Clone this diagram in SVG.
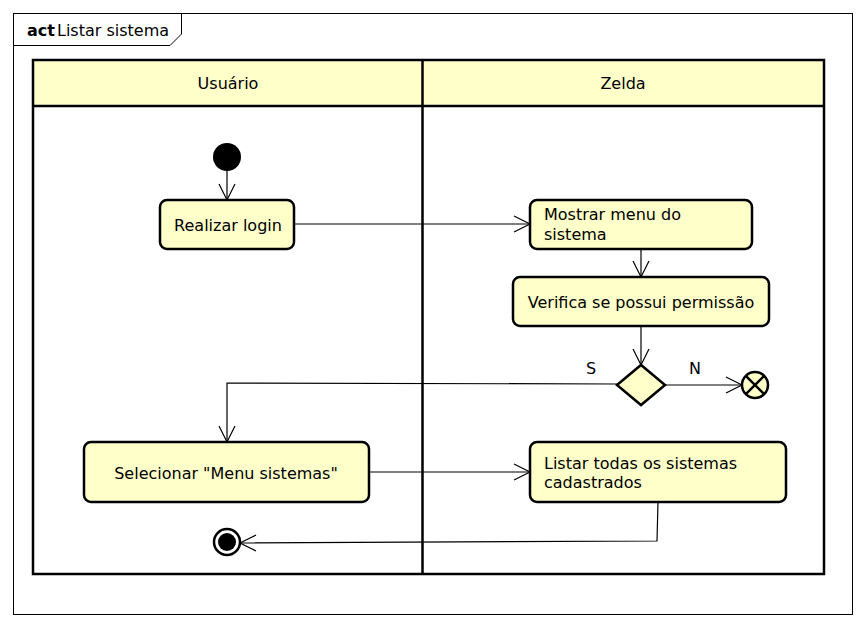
<svg xmlns="http://www.w3.org/2000/svg" width="865" height="628" viewBox="0 0 865 628">
  <style>
    .txt { font-family: "DejaVu Sans", "Liberation Sans", sans-serif; font-size: 16px; fill: #000; }
    .node { fill: #ffffca; stroke: #000; stroke-width: 2.5; }
    .lane { fill: none; stroke: #000; stroke-width: 2.5; }
    .flow { fill: none; stroke: #000; stroke-width: 1.2; }
    .head { fill: none; stroke: #000; stroke-width: 1.2; }
  </style>

  <rect width="865" height="628" fill="#fff"/>

  <!-- diagram frame -->
  <g id="frame">
    <rect x="13.5" y="13.5" width="839" height="601" fill="none" stroke="#000" stroke-width="1"/>
    <path d="M13.5,45.5 H170 L181.5,34 V13.5" fill="none" stroke="#000" stroke-width="1"/>
    <text x="27" y="36" class="txt" font-weight="bold">act</text>
    <text x="57" y="36" class="txt">Listar sistema</text>
  </g>

  <!-- swimlanes -->
  <g id="lanes">
    <rect x="33" y="60" width="791" height="46" fill="#ffffca"/>
    <rect x="33" y="60" width="791" height="514" class="lane"/>
    <line x1="33" y1="106" x2="824" y2="106" class="lane"/>
    <line x1="422.5" y1="60" x2="422.5" y2="574" class="lane"/>
    <text x="228" y="89" class="txt" text-anchor="middle">Usuário</text>
    <text x="623" y="89" class="txt" text-anchor="middle">Zelda</text>
  </g>

  <!-- connectors -->
  <g id="connectors">
    <path d="M227,171 V200" class="flow"/>
    <path d="M219,184 L227,200 L235,184" class="head"/>

    <path d="M294,224 H530" class="flow"/>
    <path d="M514,216 L530,224 L514,232" class="head"/>

    <path d="M641,249 V277" class="flow"/>
    <path d="M633,261 L641,277 L649,261" class="head"/>

    <path d="M641,326 V365" class="flow"/>
    <path d="M633,349 L641,365 L649,349" class="head"/>

    <path d="M665,385 H742" class="flow"/>
    <path d="M726,377 L742,385 L726,393" class="head"/>

    <path d="M617,384 L227,383 V442" class="flow"/>
    <path d="M219,426 L227,442 L235,426" class="head"/>

    <path d="M369,472 H530" class="flow"/>
    <path d="M514,464 L530,472 L514,480" class="head"/>

    <path d="M658,502 L657,541 L240,543" class="flow"/>
    <path d="M256,535 L240,543 L256,551" class="head"/>

    <text x="591" y="374" class="txt" text-anchor="middle">S</text>
    <text x="695" y="374" class="txt" text-anchor="middle">N</text>
  </g>

  <!-- nodes -->
  <g id="start">
    <circle cx="227" cy="157" r="14" fill="#000"/>
  </g>

  <g id="realizar-login">
    <rect x="160" y="200" width="134" height="49" rx="7" class="node"/>
    <text x="228" y="231" class="txt" text-anchor="middle">Realizar login</text>
  </g>

  <g id="mostrar-menu">
    <rect x="530" y="200" width="222" height="49" rx="7" class="node"/>
    <text x="544" y="220" class="txt">Mostrar menu do</text>
    <text x="544" y="240" class="txt">sistema</text>
  </g>

  <g id="verifica-permissao">
    <rect x="513" y="277" width="256" height="49" rx="7" class="node"/>
    <text x="641" y="308" class="txt" text-anchor="middle">Verifica se possui permissão</text>
  </g>

  <g id="decisao">
    <polygon points="617,385 641,365 665,385 641,405" class="node" stroke-width="2"/>
  </g>

  <g id="fim-fluxo">
    <circle cx="755" cy="385" r="13" fill="#ffffca" stroke="#000" stroke-width="2.5"/>
    <path d="M745.8,375.8 L764.2,394.2 M764.2,375.8 L745.8,394.2" stroke="#000" stroke-width="2.5"/>
  </g>

  <g id="selecionar-menu">
    <rect x="84" y="442" width="285" height="60" rx="7" class="node"/>
    <text x="226" y="479" class="txt" text-anchor="middle">Selecionar "Menu sistemas"</text>
  </g>

  <g id="listar-sistemas">
    <rect x="530" y="442" width="256" height="60" rx="7" class="node"/>
    <text x="544" y="469" class="txt">Listar todas os sistemas</text>
    <text x="544" y="488" class="txt">cadastrados</text>
  </g>

  <g id="fim">
    <circle cx="227" cy="542" r="13" fill="#fff" stroke="#000" stroke-width="2.5"/>
    <circle cx="227" cy="542" r="9" fill="#000"/>
  </g>
</svg>
